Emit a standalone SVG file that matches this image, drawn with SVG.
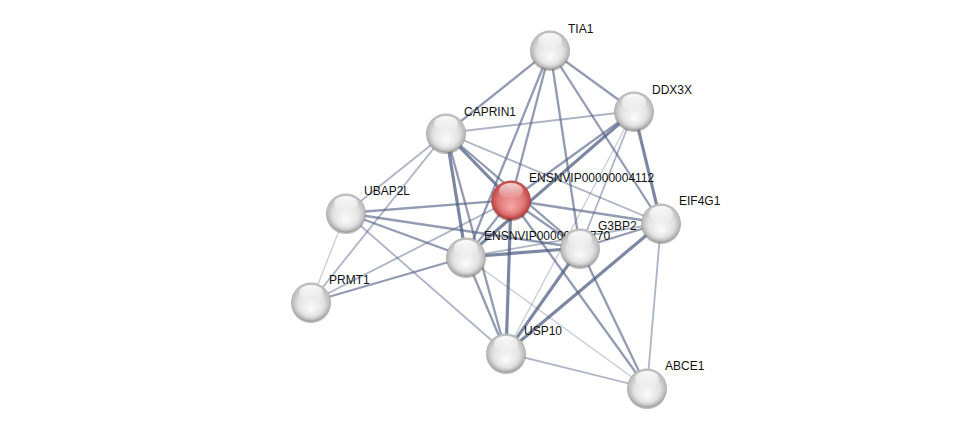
<svg xmlns="http://www.w3.org/2000/svg" width="976" height="433" viewBox="0 0 976 433">
<defs>
<radialGradient id="gw" cx="50%" cy="45%" r="55%" fx="50%" fy="70%">
<stop offset="0" stop-color="#fbfbfb"/>
<stop offset="0.6" stop-color="#e2e2e2"/>
<stop offset="0.88" stop-color="#b8b8b8"/>
<stop offset="1" stop-color="#8a8a8a"/>
</radialGradient>
<radialGradient id="gr" cx="50%" cy="45%" r="55%" fx="50%" fy="70%">
<stop offset="0" stop-color="#f6a8a8"/>
<stop offset="0.6" stop-color="#e07676"/>
<stop offset="0.88" stop-color="#c04848"/>
<stop offset="1" stop-color="#903030"/>
</radialGradient>
<linearGradient id="gl" x1="0" y1="0" x2="0" y2="1">
<stop offset="0" stop-color="#ffffff" stop-opacity="0.95"/>
<stop offset="1" stop-color="#ffffff" stop-opacity="0"/>
</linearGradient>
<g id="ball">
<circle r="20" cy="1" fill="#777" opacity="0.5"/>
<circle r="19.5" fill="url(#gw)"/>
<ellipse cy="-9" rx="12" ry="8" fill="url(#gl)"/>
</g>
<g id="rball">
<circle r="20" cy="1" fill="#702020" opacity="0.5"/>
<circle r="19.5" fill="url(#gr)"/>
<ellipse cy="-9" rx="12" ry="8" fill="url(#gl)" opacity="0.8"/>
</g>
</defs>
<style>
line{stroke:#4a5a80;stroke-linecap:round}
.e1{stroke-width:1.3;opacity:0.3}
.e2{stroke-width:1.8;opacity:0.45}
.e3{stroke-width:2.3;opacity:0.6}
.e4{stroke-width:3.2;opacity:0.72}
text{font-family:"Liberation Sans",Arial,sans-serif;font-size:12px;fill:#111}
</style>
<rect width="976" height="433" fill="#ffffff"/>
<g id="connectors">
<line class="e3" x1="550" y1="50" x2="446" y2="133"/>
<line class="e3" x1="550" y1="50" x2="634" y2="111"/>
<line class="e3" x1="550" y1="50" x2="466" y2="257"/>
<line class="e3" x1="550" y1="50" x2="511" y2="200"/>
<line class="e3" x1="550" y1="50" x2="580" y2="248"/>
<line class="e3" x1="550" y1="50" x2="661" y2="223"/>
<line class="e2" x1="446" y1="133" x2="634" y2="111"/>
<line class="e2" x1="446" y1="133" x2="661" y2="223"/>
<line class="e2" x1="446" y1="133" x2="346" y2="213"/>
<line class="e2" x1="446" y1="133" x2="311" y2="302"/>
<line class="e4" x1="446" y1="133" x2="511" y2="200"/>
<line class="e3" x1="446" y1="133" x2="580" y2="248"/>
<line class="e4" x1="446" y1="133" x2="466" y2="257"/>
<line class="e3" x1="446" y1="133" x2="506" y2="353"/>
<line class="e3" x1="634" y1="111" x2="511" y2="200"/>
<line class="e4" x1="634" y1="111" x2="466" y2="257"/>
<line class="e2" x1="634" y1="111" x2="580" y2="248"/>
<line class="e1" x1="634" y1="111" x2="506" y2="353"/>
<line class="e4" x1="634" y1="111" x2="661" y2="223"/>
<line class="e3" x1="346" y1="213" x2="511" y2="200"/>
<line class="e3" x1="346" y1="213" x2="466" y2="257"/>
<line class="e3" x1="346" y1="213" x2="580" y2="248"/>
<line class="e2" x1="346" y1="213" x2="506" y2="353"/>
<line class="e1" x1="346" y1="213" x2="311" y2="302"/>
<line class="e2" x1="311" y1="302" x2="511" y2="200"/>
<line class="e3" x1="311" y1="302" x2="466" y2="257"/>
<line class="e3" x1="511" y1="200" x2="466" y2="257"/>
<line class="e3" x1="511" y1="200" x2="580" y2="248"/>
<line class="e3" x1="511" y1="200" x2="661" y2="223"/>
<line class="e4" x1="511" y1="200" x2="506" y2="353"/>
<line class="e3" x1="511" y1="200" x2="647" y2="388"/>
<line class="e4" x1="466" y1="257" x2="580" y2="248"/>
<line class="e2" x1="466" y1="257" x2="661" y2="223"/>
<line class="e3" x1="466" y1="257" x2="506" y2="353"/>
<line class="e1" x1="466" y1="257" x2="647" y2="388"/>
<line class="e3" x1="580" y1="248" x2="661" y2="223"/>
<line class="e4" x1="580" y1="248" x2="506" y2="353"/>
<line class="e3" x1="580" y1="248" x2="647" y2="388"/>
<line class="e4" x1="661" y1="223" x2="506" y2="353"/>
<line class="e2" x1="661" y1="223" x2="647" y2="388"/>
<line class="e2" x1="506" y1="353" x2="647" y2="388"/>
</g>
<g id="TIA1"><use href="#ball" x="550" y="50"/><text x="568" y="33">TIA1</text></g>
<g id="DDX3X"><use href="#ball" x="634" y="111"/><text x="652" y="94">DDX3X</text></g>
<g id="CAPRIN1"><use href="#ball" x="446" y="133"/><text x="464" y="116">CAPRIN1</text></g>
<g id="UBAP2L"><use href="#ball" x="346" y="213"/><text x="364" y="195">UBAP2L</text></g>
<g id="PRMT1"><use href="#ball" x="311" y="302"/><text x="329" y="284">PRMT1</text></g>
<g id="ENSNVIP00000004112"><use href="#rball" x="511" y="200"/><text x="529" y="182">ENSNVIP00000004112</text></g>
<g id="ENSNVIP00000002770"><text x="484" y="240">ENSNVIP00000002770</text><use href="#ball" x="466" y="257"/></g>
<g id="G3BP2"><use href="#ball" x="580" y="248"/><text x="598" y="230">G3BP2</text></g>
<g id="EIF4G1"><use href="#ball" x="661" y="223"/><text x="679" y="205">EIF4G1</text></g>
<g id="USP10"><use href="#ball" x="506" y="353"/><text x="524" y="335">USP10</text></g>
<g id="ABCE1"><use href="#ball" x="647" y="388"/><text x="665" y="370">ABCE1</text></g>
</svg>
